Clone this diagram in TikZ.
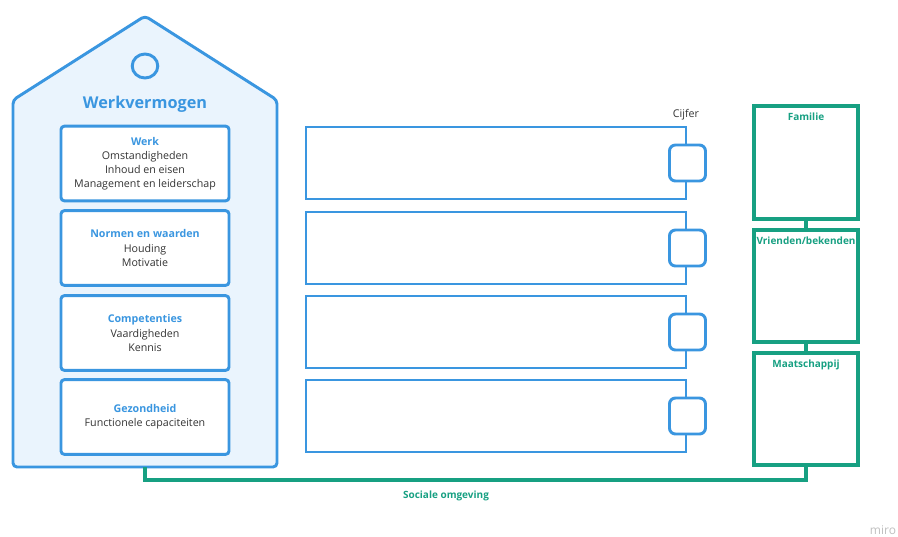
\documentclass[tikz,border=0pt]{standalone}
\usepackage{fontspec}
\setmainfont{Open Sans}
\usepackage{tikz}
\usetikzlibrary{positioning}
\definecolor{wblue}{HTML}{3A96E0}
\definecolor{wfill}{HTML}{EAF4FD}
\definecolor{sgreen}{HTML}{17A082}
\definecolor{tgray}{HTML}{333333}
\tikzset{
  house/.style={draw=wblue, fill=wfill, line width=2.2pt, rounded corners=3pt, line join=round},
  part/.style={draw=wblue, fill=white, line width=2.2pt, rounded corners=2.5pt,
    minimum width=126pt, minimum height=56pt, align=center, font=\fontsize{8}{10.6}\selectfont, text=tgray},
  bar/.style={draw=wblue, fill=white, line width=2.2pt, minimum width=285pt, minimum height=54pt},
  tab/.style={draw=wblue, fill=white, line width=2.2pt, rounded corners=4.5pt, minimum size=27pt},
  circ/.style={draw=sgreen, fill=white, line width=2.8pt, minimum width=78pt, minimum height=84.5pt},
  gtitle/.style={font=\fontsize{7.5}{9}\selectfont\bfseries, text=sgreen, inner sep=0pt},
  link/.style={draw=sgreen, line width=2.5pt},
}
\newcommand{\ptitle}[1]{{\color{wblue}\bfseries #1}}

\begin{document}
\begin{tikzpicture}[x=0.75pt, y=-0.75pt]
    \useasboundingbox (0,0) rectangle (898,536);
    % Huis
    \draw[house] (13,467) -- (13,100) -- (145,16) -- (277,100) -- (277,467) -- cycle;
    \draw[draw=wblue, line width=2.2pt] (145,66) ellipse (9.6pt and 9pt);
    \coordinate (hb) at (145,467);
    \node[font=\fontsize{12.2}{14}\selectfont\bfseries, text=wblue] (wv) at (145,104.5) {Werkvermogen};
    \node[part] (p1) at (145,163.5) {\ptitle{Werk}\\Omstandigheden\\Inhoud en eisen\\Management en leiderschap};
    \node[part] (p2) at (145,248) {\ptitle{Normen en waarden}\\Houding\\Motivatie};
    \node[part] (p3) at (145,333) {\ptitle{Competenties}\\Vaardigheden\\Kennis};
    \node[part] (p4) at (145,417) {\ptitle{Gezondheid}\\Functionele capaciteiten};
    % Balken
    \node[bar] (b1) at (496,163) {};
    \node[bar] (b2) at (496,248) {};
    \node[bar] (b3) at (496,332) {};
    \node[bar] (b4) at (496,416) {};
    \node[tab] (t1) at (b1.east) {};
    \node[tab] (t2) at (b2.east) {};
    \node[tab] (t3) at (b3.east) {};
    \node[tab] (t4) at (b4.east) {};
    \node[font=\fontsize{8}{10}\selectfont, text=tgray] (cf) at (686,115) {Cijfer};
    % Sociale omgeving
    \node[circ] (fam) at (806,162.5) {};
    \node[circ] (vri) at (806,286) {};
    \node[circ] (maa) at (806,409) {};
    \node[gtitle, below=6.5pt of fam.north] (famt) {Familie};
    \node[gtitle, below=6.5pt of vri.north] (vrit) {Vrienden/bekenden};
    \node[gtitle, below=6.5pt of maa.north] (maat) {Maatschappij};
    \path[link] (fam) -- (vri) (vri) -- (maa);
    \draw[link] (hb) -- ++(0,13) -| (maa.south);
    \node[gtitle] (so) at (446,496) {Sociale omgeving};
    \node[font=\fontsize{9}{10}\selectfont, text=black!25] (miro) at (883,530) {miro};
\end{tikzpicture}
\end{document}
